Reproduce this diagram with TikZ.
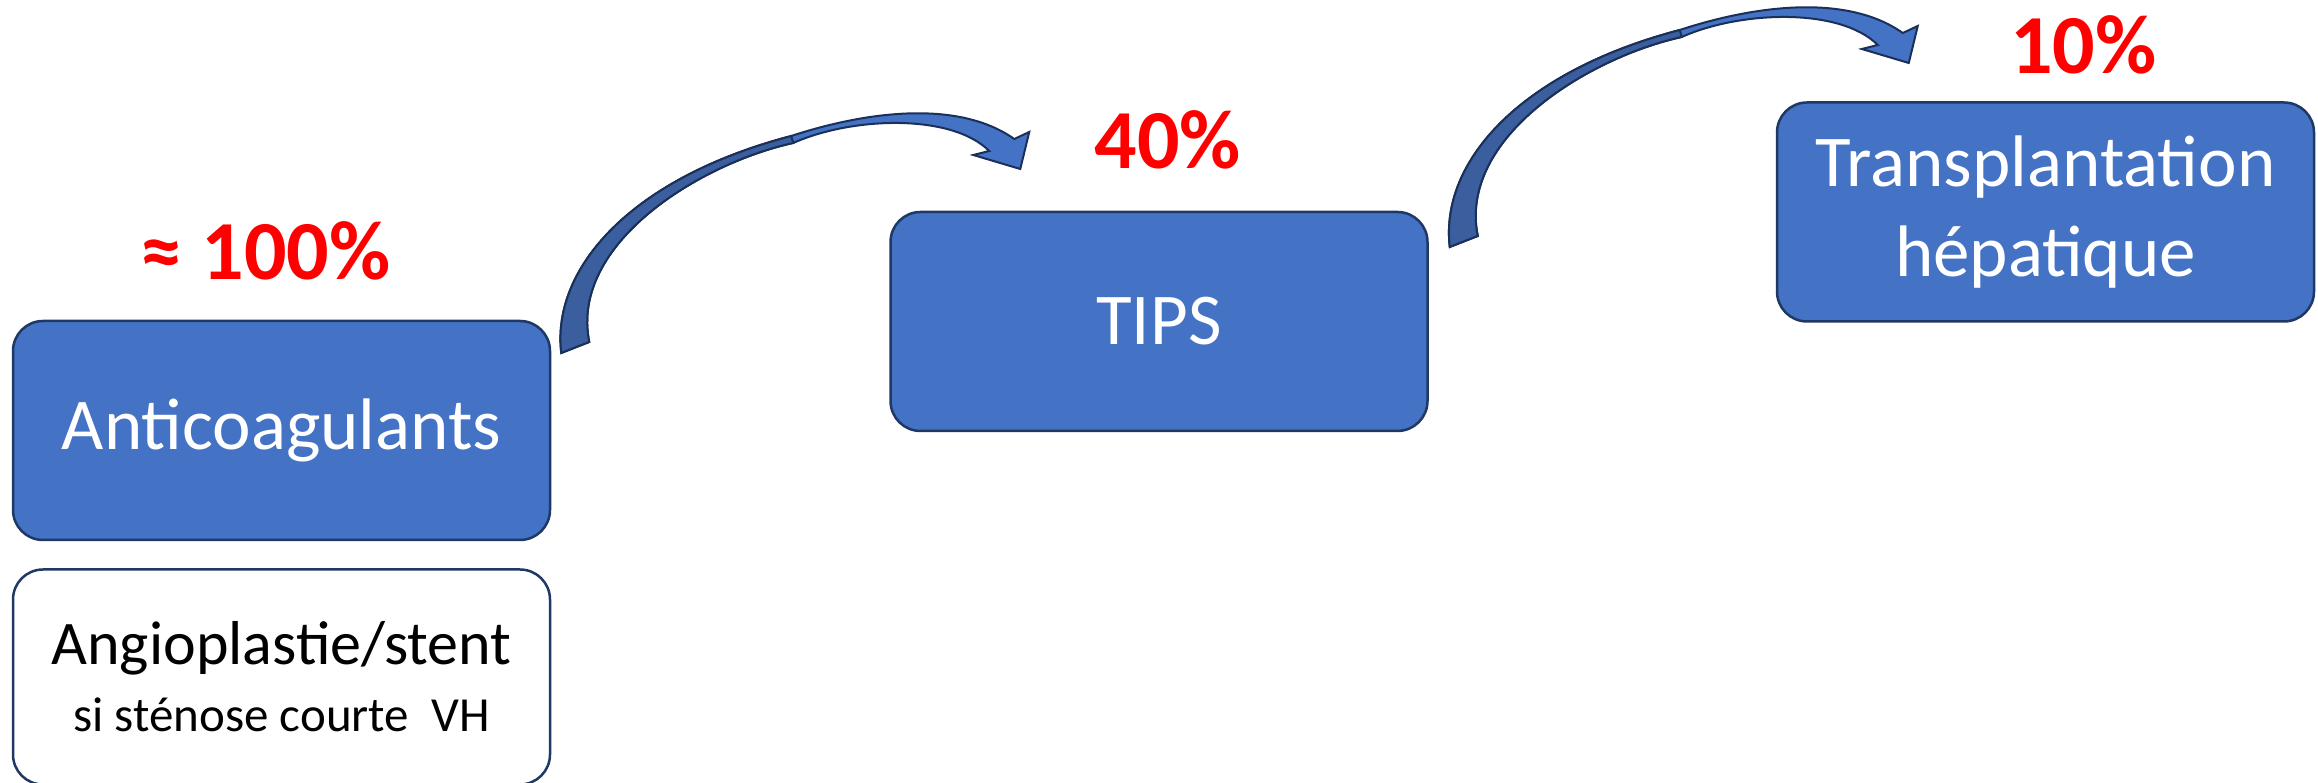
\documentclass[tikz,border=0pt]{standalone}
\usepackage{fontspec}
\setmainfont{Carlito}
\usepackage{xcolor}
\usetikzlibrary{positioning,calc}
\definecolor{boxblue}{HTML}{4472C4}
\definecolor{boxline}{HTML}{1F3864}
\definecolor{arrdark}{HTML}{3A5E9E}
\definecolor{arrline}{HTML}{1A3059}
\definecolor{pctred}{HTML}{FF0000}
\tikzset{
  treat/.style={rectangle, draw=boxline, line width=2.5pt, fill=boxblue, rounded corners=30pt,
                align=center, text=white, font=\fontsize{73}{90}\selectfont,
                minimum width=537pt, minimum height=219pt, inner sep=0pt},
  altbox/.style={treat, fill=white, text=black, minimum height=215pt,
                 font=\fontsize{49}{67}\selectfont},
  pct/.style={font=\fontsize{84}{90}\selectfont\bfseries, text=pctred, inner sep=0pt},
  bentarrow/.pic={
    \filldraw[fill=boxblue, draw=arrline, line width=2pt]
      (0,0) .. controls (-10,85) and (70,175) .. (230,217)
      .. controls (300,240) and (395,255) .. (453,214)
      -- (468,221) -- (459,184) -- (412,198) -- (428,202)
      .. controls (390,240) and (290,236) .. (232,210)
      .. controls (140,190) and (8,110) .. (28,11) -- cycle;
    \filldraw[fill=arrdark, draw=arrline, line width=2pt]
      (0,0) .. controls (-10,85) and (70,175) .. (230,217) -- (232,210)
      .. controls (140,190) and (8,110) .. (28,11) -- cycle;
  },
}

\begin{document}
\begin{tikzpicture}[x=1pt, y=1pt]
\useasboundingbox (0,0) rectangle (2318,783);
\node[treat] (anti) at (281.5,352.5) {Anticoagulants};
\node[altbox, below=27pt of anti] (angio) {{\fontsize{62}{67}\selectfont Angioplastie/stent}\\si sténose courte\ \ VH};
\node[treat, right=338pt of anti, yshift=109pt] (tips) {TIPS};
\node[treat, right=347pt of tips, yshift=109.5pt] (trans) {Transplantation\\hépatique};
\node[pct, above=39pt of anti, xshift=-16pt] (p100) {≈ 100\%};
\node[pct, above=41pt of tips, xshift=9pt] (p40) {40\%};
\node[pct, above=27pt of trans, xshift=38pt] (p10) {10\%};
\coordinate (bend1) at ($(anti.east)+(10,77.5)$);
\coordinate (bend2) at ($(tips.east)+(21,74.5)$);
\pic at (bend1) {bentarrow};
\pic at (bend2) {bentarrow};
\end{tikzpicture}
\end{document}
